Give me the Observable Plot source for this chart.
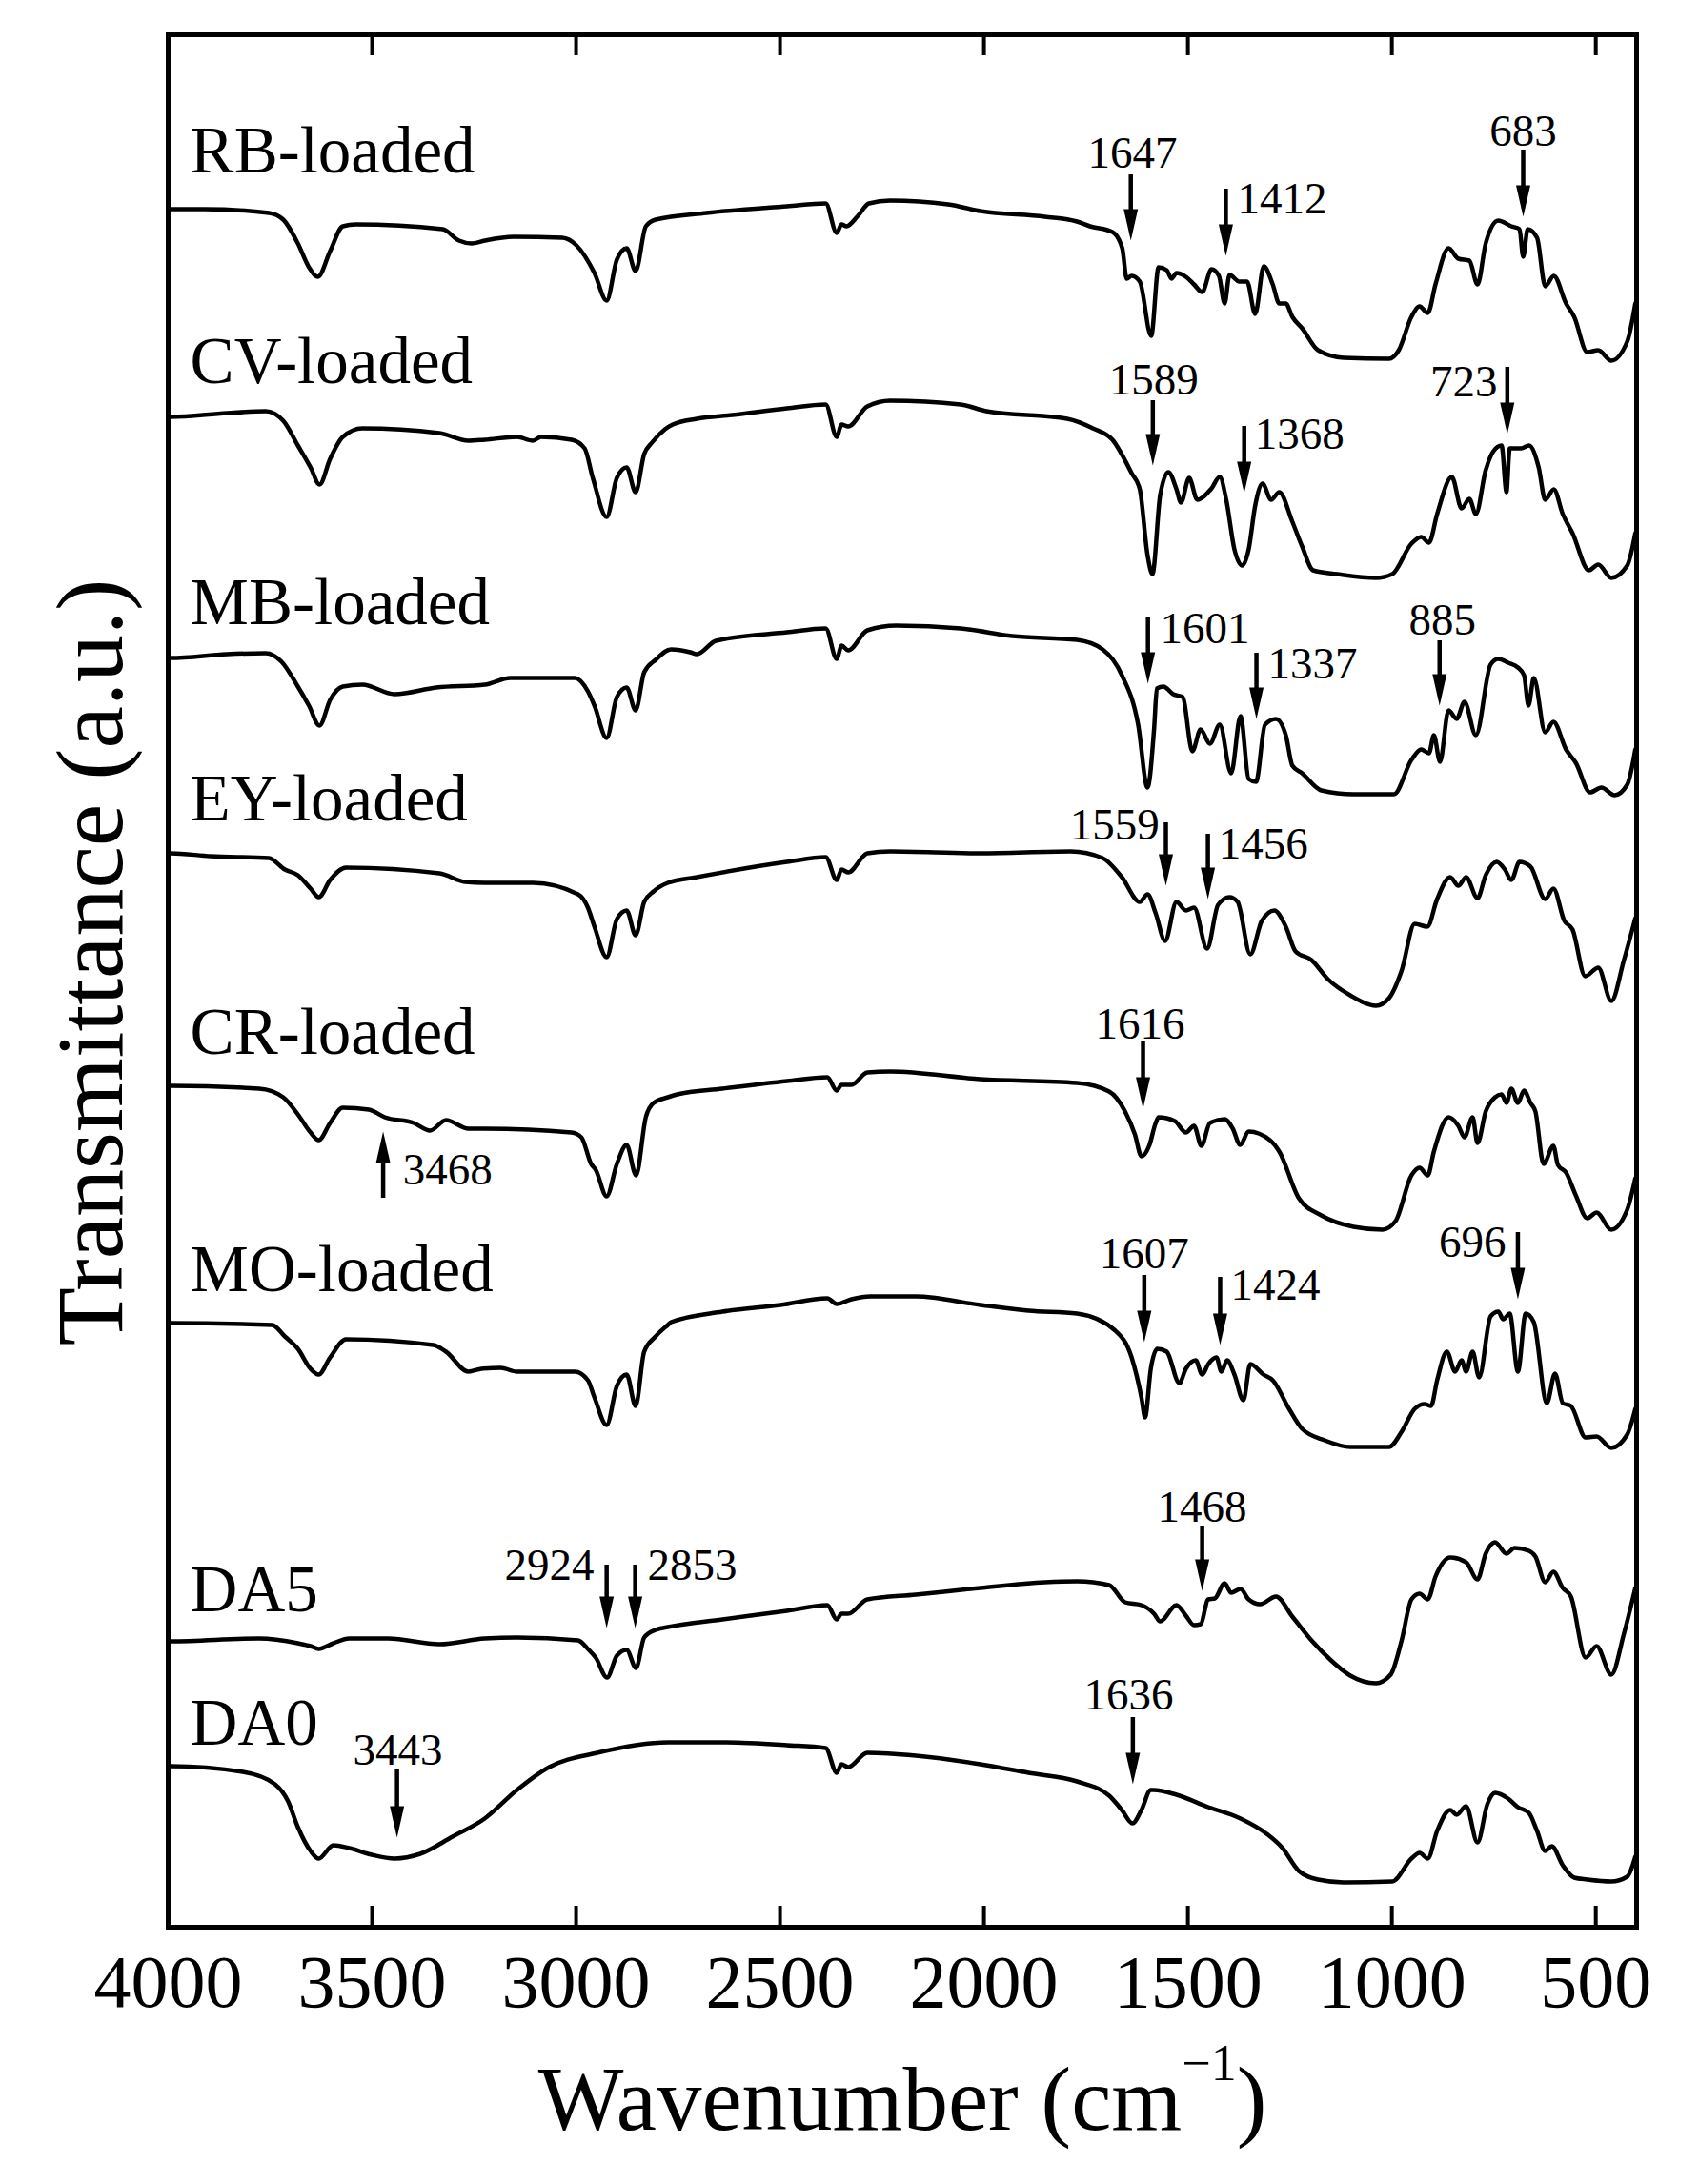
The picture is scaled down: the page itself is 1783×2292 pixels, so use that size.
<!DOCTYPE html>
<html><head><meta charset="utf-8">
<script src="https://cdn.jsdelivr.net/npm/d3@7"></script>
<script src="https://cdn.jsdelivr.net/npm/@observablehq/plot@0.6"></script>
<style>body{margin:0;background:#fff}</style>
</head><body><div id="chart"></div>
<script>
// ---- data (wavenumber cm-1, stacked transmittance a.u.) ----
const seriesNames = ["RB-loaded","CV-loaded","MB-loaded","EY-loaded","CR-loaded","MO-loaded","DA5","DA0"];

const rbLoaded = [[4000,90.15],[3994,90.15],[3911,90.15],[3753,89.95],[3718,89.6],[3682,88.35],[3655,87.1],[3633,86.6],[3603,87.95],[3572,89.25],[3540,89.35],[3327,89.1],[3287,88.5],[3256,88.35],[3224,88.5],[3153,88.7],[3034,88.65],[2999,88.25],[2955,86.8],[2925,85.35],[2900,87.5],[2876,88.1],[2854,86.9],[2829,89.25],[2805,89.6],[2680,89.95],[2483,90.3],[2388,90.45],[2361,88.9],[2349,89.35],[2337,89.25],[2309,89.8],[2282,90.45],[2230,90.6],[2088,90.4],[2009,90.05],[1851,89.75],[1772,89.5],[1740,89.25],[1685,88.95],[1661,88.1],[1650,86.5],[1638,86.65],[1618,86.35],[1590,83.5],[1572,87.1],[1552,86.95],[1540,86.5],[1528,86.8],[1505,86.6],[1485,86.2],[1465,85.8],[1442,87.0],[1424,86.65],[1410,85.2],[1398,86.7],[1374,86.35],[1355,86.35],[1335,84.65],[1314,87.15],[1292,86.2],[1276,85.2],[1260,85.2],[1244,84.5],[1220,83.9],[1181,82.75],[1118,82.35],[1007,82.3],[983,82.75],[952,84.5],[932,85.05],[912,84.7],[893,86.2],[861,88.1],[837,87.55],[810,87.45],[790,86.2],[770,88.35],[739,89.55],[707,89.25],[687,89.1],[678,87.65],[667,89.1],[644,88.65],[624,86.1],[603,86.65],[573,85.2],[553,84.5],[521,82.65],[494,82.75],[462,82.2],[423,83.2],[403,85.2]];

const cvLoaded = [[4000,79.25],[3994,79.25],[3856,79.45],[3761,79.55],[3718,79.05],[3682,77.75],[3651,76.6],[3629,75.7],[3603,77.05],[3572,78.2],[3524,78.65],[3335,78.4],[3264,78.0],[3224,78.05],[3145,78.2],[3106,78.0],[3086,78.2],[3011,78.05],[2979,77.6],[2959,76.05],[2925,74.0],[2900,76.05],[2876,76.6],[2854,75.3],[2833,77.3],[2814,77.9],[2782,78.6],[2763,78.85],[2704,79.15],[2617,79.35],[2483,79.7],[2388,79.9],[2361,78.2],[2349,78.85],[2333,78.75],[2286,79.8],[2230,80.1],[2057,79.9],[1994,79.55],[1796,79.15],[1733,78.65],[1685,78.05],[1638,76.3],[1618,75.45],[1599,72.0],[1587,71.0],[1568,75.15],[1548,76.35],[1528,75.45],[1517,74.75],[1497,76.05],[1477,74.9],[1442,75.5],[1422,76.1],[1406,74.9],[1386,72.3],[1367,71.45],[1351,72.3],[1335,74.6],[1317,75.75],[1296,74.9],[1276,75.3],[1244,73.75],[1220,72.45],[1193,71.2],[1134,71.0],[1039,70.8],[999,71.0],[952,72.6],[928,72.95],[909,72.65],[889,74.15],[853,76.1],[829,74.45],[810,74.95],[794,74.15],[770,76.45],[751,77.45],[731,77.75],[719,75.3],[711,77.6],[683,77.6],[664,77.75],[640,76.6],[624,74.9],[603,75.45],[581,74.15],[557,73.15],[517,71.2],[494,71.5],[462,70.8],[423,71.45],[403,73.15]];

const mbLoaded = [[4000,66.6],[3994,66.6],[3856,66.8],[3761,66.85],[3722,66.4],[3682,65.1],[3655,64.1],[3629,63.05],[3603,64.4],[3572,65.1],[3524,65.2],[3445,64.7],[3343,65.05],[3224,65.2],[3161,65.55],[3003,65.55],[2971,64.85],[2955,64.1],[2925,62.4],[2900,64.55],[2876,65.05],[2854,63.85],[2833,65.85],[2805,66.5],[2767,67.05],[2720,66.9],[2704,66.8],[2657,67.5],[2483,67.95],[2388,68.15],[2361,66.55],[2349,67.25],[2333,67.0],[2286,68.05],[2215,68.3],[2057,68.15],[1930,67.75],[1772,67.55],[1709,67.05],[1662,65.7],[1622,63.1],[1599,59.8],[1583,62.85],[1576,65.0],[1560,65.1],[1536,64.7],[1513,64.55],[1489,61.7],[1469,62.85],[1446,62.1],[1422,63.1],[1394,60.55],[1371,63.55],[1351,60.25],[1333,60.1],[1311,63.1],[1284,63.4],[1260,62.55],[1244,60.95],[1220,60.55],[1173,59.65],[1094,59.45],[995,59.45],[952,61.25],[928,61.8],[909,61.6],[897,62.55],[882,61.15],[861,63.85],[841,63.4],[822,64.3],[794,62.55],[758,66.25],[739,66.55],[715,66.35],[691,66.1],[676,65.7],[665,64.1],[652,65.55],[624,62.7],[604,63.25],[573,61.8],[549,61.1],[514,59.55],[486,59.8],[454,59.4],[423,59.95],[403,61.8]];

const eyLoaded = [[4000,56.35],[3994,56.35],[3896,56.2],[3753,56.1],[3714,55.5],[3682,55.2],[3651,54.5],[3631,54.05],[3603,54.95],[3564,55.6],[3335,55.3],[3272,54.85],[3224,54.8],[3106,54.8],[2995,54.2],[2971,53.5],[2955,52.5],[2925,50.9],[2900,52.9],[2876,53.35],[2854,52.05],[2833,53.8],[2810,54.35],[2775,54.8],[2704,55.1],[2483,55.9],[2388,56.15],[2361,54.95],[2349,55.5],[2333,55.35],[2286,56.35],[2230,56.45],[2009,56.35],[1788,56.45],[1709,56.1],[1662,55.1],[1618,53.8],[1599,54.2],[1579,53.2],[1556,51.75],[1528,53.8],[1505,53.35],[1485,53.5],[1453,51.35],[1426,53.65],[1398,54.05],[1378,53.8],[1347,51.05],[1319,52.8],[1288,53.35],[1260,52.5],[1236,51.2],[1197,50.75],[1157,49.75],[1102,48.9],[1039,48.35],[1007,48.75],[976,50.2],[944,52.65],[913,52.5],[889,53.95],[857,55.1],[837,54.65],[818,55.1],[790,54.0],[770,55.2],[743,55.9],[723,55.5],[707,54.95],[687,55.9],[660,55.65],[624,53.95],[604,54.5],[577,52.8],[557,52.35],[526,49.9],[494,50.35],[462,48.6],[431,50.75],[403,52.95]];

const crLoaded = [[4000,44.15],[3994,44.15],[3777,44.0],[3718,43.55],[3682,42.65],[3651,41.7],[3631,41.3],[3603,42.2],[3572,43.0],[3508,42.9],[3469,42.5],[3398,42.2],[3358,41.8],[3319,42.35],[3264,41.9],[3224,41.9],[3011,41.7],[2987,41.45],[2963,40.05],[2952,39.75],[2925,38.35],[2900,40.05],[2876,41.05],[2853,39.45],[2829,42.5],[2810,43.25],[2775,43.55],[2752,43.7],[2641,44.0],[2483,44.4],[2384,44.6],[2361,43.9],[2349,44.2],[2325,44.2],[2286,44.85],[2230,44.9],[2009,44.5],[1772,44.3],[1693,43.85],[1654,42.8],[1630,41.6],[1614,40.45],[1595,41.0],[1579,42.2],[1572,42.5],[1532,42.3],[1505,41.7],[1485,42.05],[1467,41.0],[1446,42.2],[1410,42.4],[1390,41.9],[1372,41.05],[1351,41.75],[1299,41.3],[1276,40.7],[1228,38.25],[1173,37.35],[1094,36.75],[1023,36.6],[991,37.05],[952,39.45],[932,39.85],[912,39.45],[897,40.7],[861,42.5],[837,42.05],[822,41.45],[802,42.5],[790,41.15],[770,42.8],[747,43.55],[731,43.7],[719,43.25],[707,44.0],[691,43.25],[676,43.9],[660,43.25],[648,42.8],[628,40.05],[604,41.0],[593,40.0],[573,39.6],[549,38.4],[521,37.2],[498,37.5],[462,36.6],[423,37.65],[403,39.3]];

const moLoaded = [[4000,31.7],[3994,31.7],[3745,31.6],[3714,31.0],[3682,30.35],[3651,29.3],[3631,29.0],[3603,29.9],[3564,30.85],[3350,30.55],[3319,30.2],[3264,29.15],[3232,29.3],[3185,29.35],[3145,29.15],[3003,29.15],[2971,28.7],[2955,27.8],[2925,26.35],[2900,28.4],[2876,29.0],[2854,27.35],[2833,30.2],[2805,31.0],[2775,31.6],[2767,31.75],[2641,32.3],[2499,32.65],[2384,33.0],[2361,32.7],[2325,32.95],[2278,33.1],[2167,33.1],[2009,32.65],[1891,32.35],[1772,32.2],[1678,31.3],[1638,29.9],[1614,27.8],[1605,26.75],[1591,29.3],[1575,30.35],[1552,30.2],[1521,28.55],[1505,29.3],[1481,29.75],[1465,29.0],[1450,29.55],[1430,29.9],[1418,29.15],[1404,29.75],[1386,29.0],[1364,27.65],[1347,29.55],[1315,29.0],[1292,28.7],[1252,27.2],[1220,26.15],[1165,25.55],[1102,25.2],[1007,25.2],[976,26.0],[944,27.2],[920,27.45],[904,27.35],[889,28.7],[865,30.2],[845,29.15],[829,29.75],[818,29.15],[802,30.2],[786,28.85],[758,32.05],[739,32.3],[727,31.9],[711,32.2],[691,29.15],[672,32.2],[652,31.75],[620,27.5],[600,29.05],[581,27.5],[561,27.35],[525,25.7],[498,25.75],[462,25.15],[423,25.85],[403,27.2]];

const da5 = [[4000,15.0],[3994,15.0],[3777,15.15],[3682,14.9],[3651,14.75],[3631,14.6],[3595,14.9],[3556,15.15],[3461,15.15],[3335,14.85],[3224,15.15],[3145,15.2],[2995,15.05],[2971,14.6],[2952,14.15],[2924,13.1],[2900,14.25],[2876,14.55],[2853,13.6],[2833,15.2],[2805,15.6],[2775,15.75],[2641,16.15],[2483,16.6],[2384,16.9],[2361,16.15],[2349,16.45],[2333,16.45],[2286,17.2],[2167,17.45],[2009,17.8],[1851,18.1],[1772,18.15],[1693,17.95],[1654,17.05],[1614,16.9],[1583,16.45],[1568,16.05],[1528,16.9],[1505,16.35],[1485,15.85],[1469,15.9],[1450,17.2],[1434,17.25],[1410,18.05],[1394,17.55],[1371,17.75],[1351,17.2],[1323,16.95],[1284,17.35],[1244,16.3],[1197,15.05],[1149,14.0],[1102,13.2],[1039,12.8],[1003,13.25],[976,15.05],[952,17.2],[932,17.5],[912,17.2],[893,18.4],[857,19.4],[818,19.15],[790,18.25],[770,19.6],[747,20.2],[719,19.6],[699,19.9],[664,19.75],[648,19.45],[624,18.1],[604,18.65],[581,17.8],[561,17.35],[525,14.15],[498,14.75],[462,13.25],[431,15.4],[403,17.8]];

const da0 = [[4000,8.45],[3994,8.45],[3817,8.15],[3738,7.5],[3706,6.6],[3682,5.25],[3651,4.0],[3631,3.6],[3595,4.3],[3556,4.15],[3501,3.8],[3445,3.6],[3382,3.85],[3303,4.75],[3224,5.7],[3145,7.2],[3066,8.4],[2948,9.15],[2775,9.7],[2641,9.7],[2483,9.55],[2388,9.4],[2361,8.1],[2349,8.55],[2333,8.4],[2286,9.15],[2167,9.0],[2009,8.55],[1891,8.1],[1772,7.65],[1693,6.9],[1662,6.15],[1636,5.45],[1614,6.15],[1591,7.2],[1584,7.2],[1528,6.95],[1450,6.3],[1371,5.7],[1307,4.9],[1268,4.15],[1228,2.95],[1181,2.5],[1118,2.35],[999,2.4],[952,3.6],[932,3.9],[912,3.6],[889,5.05],[857,6.15],[841,5.9],[818,6.35],[790,4.45],[766,6.45],[747,7.05],[715,6.75],[691,6.3],[664,6.0],[644,5.05],[624,4.0],[608,4.25],[581,3.25],[553,2.6],[521,2.5],[462,2.4],[423,2.65],[403,3.7]];

// series label anchor points
const nameW = [3946,3946,3946,3946,3946,3946,3946,3946];
const nameT = [92.1,81.05,68.4,58.1,45.85,33.4,16.6,9.6];

// peak annotations
const annoText   = ["1647","1412","683","1589","1368","723","1601","1337","885","1559","1456","1616","3468","1607","1424","696","2924","2853","1468","3443","1636"];
const annoW      = [1640,1407,678,1586,1362,717,1598,1332,883,1554,1451,1610,3473,1607,1421,691,2925,2855,1465,3439,1635];
const annoTail   = [91.95,91.2,93.25,80.1,78.75,81.85,68.7,66.85,67.5,57.95,57.35,46.45,38.25,34.2,34.1,36.45,19.0,19.0,21.05,8.25,11.0];
const annoTip    = [88.5,87.7,89.75,76.7,75.25,78.35,65.25,63.4,64.1,54.65,53.95,42.95,41.75,30.7,30.55,32.95,15.7,15.7,17.65,4.7,7.5];
const annoLabelW = [1636,1379,678,1584,1336,741,1568,1304,876,1570,1425,1617,3425,1607,1395,720,2956,2825,1465,3437,1645];
const annoLabelT = [92.35,89.95,93.5,80.45,77.6,80.35,67.4,65.55,67.85,57.1,56.1,46.65,39.0,34.6,32.95,35.2,18.25,18.25,21.3,8.55,11.45];
const annoAnchor = ["middle","start","middle","middle","start","end","start","start","middle","end","start","middle","start","middle","start","end","end","start","middle","middle","middle"];

// axis ticks
const tickLabels = [4000,3500,3000,2500,2000,1500,1000,500];
const tickMarks  = [3500,3000,2500,2000,1500,1000,500];

// ---- build ----
const allSeries = [rbLoaded,cvLoaded,mbLoaded,eyLoaded,crLoaded,moLoaded,da5,da0];
const rows = allSeries.flatMap((pts, i) => pts.map(([w, t]) => ({name: seriesNames[i], w, t})));
const names = seriesNames.map((name, i) => ({name, w: nameW[i], t: nameT[i]}));
const annos = annoText.map((label, i) => ({label, w: annoW[i], tail: annoTail[i], tip: annoTip[i], lw: annoLabelW[i], lt: annoLabelT[i], anchor: annoAnchor[i]}));

const W = 1783, H = 2292;
const mL = 176, mR = 66, mT = 36, mB = 270;
const innerH = H - mT - mB;
const FONT = "Liberation Serif, Times New Roman, serif";

const headSymbol = {draw(ctx) { ctx.moveTo(0, 0); ctx.lineTo(-7.5, -33); ctx.lineTo(7.5, -33); ctx.closePath(); }};

const textMark = (anchor) => Plot.text(annos, {filter: d => d.anchor === anchor, x: "lw", y: "lt", text: "label", textAnchor: anchor, lineAnchor: "bottom", fontSize: 47, fontFamily: FONT, fill: "black"});

const svg = Plot.plot({
  width: W, height: H,
  marginLeft: mL, marginRight: mR, marginTop: mT, marginBottom: mB,
  style: {background: "white", fontFamily: FONT, color: "black"},
  x: {domain: [4000, 400], label: null},
  y: {domain: [0, 99.3], axis: null, label: null},
  marks: [
    Plot.line(rows, {x: "w", y: "t", z: "name", curve: "monotone-x", stroke: "black", strokeWidth: 4.5, strokeLinejoin: "round", strokeLinecap: "round"}),
    Plot.frame({stroke: "black", strokeWidth: 5}),
    Plot.tickX(tickMarks, {x: d => d, insetTop: innerH - 22, stroke: "black", strokeWidth: 4}),
    Plot.tickX(tickMarks, {x: d => d, insetBottom: innerH - 22, stroke: "black", strokeWidth: 4}),
    Plot.axisX({ticks: tickLabels, anchor: "bottom", tickSize: 0, tickPadding: 28, fontSize: 78, fontFamily: FONT, tickFormat: d => String(d), label: null}),
    Plot.text(names, {x: "w", y: "t", text: "name", textAnchor: "start", lineAnchor: "bottom", fontSize: 69, fontFamily: FONT, fill: "black"}),
    Plot.ruleX(annos, {x: "w", y1: "tail", y2: d => d.tail > d.tip ? d.tip + 1.2 : d.tip - 1.2, stroke: "black", strokeWidth: 4.5}),
    Plot.dot(annos, {x: "w", y: "tip", symbol: headSymbol, fill: "black", stroke: "none", rotate: d => d.tail > d.tip ? 0 : 180}),
    textMark("middle"), textMark("start"), textMark("end")
  ]
});

const s = d3.select(svg);
const xt = s.append("text").attr("x", 947).attr("y", 2235).attr("text-anchor", "middle")
  .attr("font-family", FONT).attr("font-size", 95).attr("fill", "black");
xt.append("tspan").text("Wavenumber (cm");
xt.append("tspan").attr("font-size", 54).attr("dy", -52).text("\u22121");
xt.append("tspan").attr("dy", 52).text(")");

s.append("text").attr("transform", "translate(128,1010) rotate(-90)").attr("text-anchor", "middle")
  .attr("font-family", FONT).attr("font-size", 100).attr("fill", "black").text("Transmittance (a.u.)");

document.getElementById("chart").appendChild(svg);
</script>
</body></html>
